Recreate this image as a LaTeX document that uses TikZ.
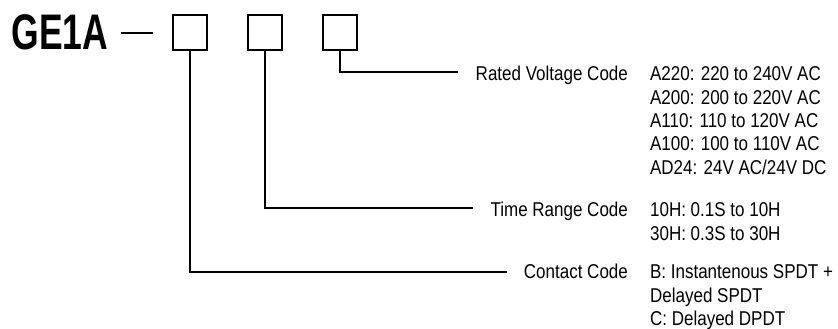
\documentclass[tikz,border=0pt]{standalone}
\usepackage{fontspec}
\newfontfamily\codefont{Liberation Sans}[FakeStretch=0.85]
\newfontfamily\titlefont{Liberation Sans}[FakeStretch=0.71]
\usetikzlibrary{positioning}

\begin{document}
\begin{tikzpicture}[x=1pt,y=-1pt,line width=2.2pt]

		\tikzset{code box/.style={draw, line width=2.4pt,
								minimum width=33.6pt, minimum height=34.6pt,
								inner sep=0pt},
				 code text/.style={inner sep=0pt,
								font=\codefont\fontsize{20}{23.4}\selectfont},
				 code label/.style={code text, anchor=base east},
				 code value/.style={code text, anchor=base west}}

		\useasboundingbox (0,0) rectangle (838,329);

		% model number and code boxes
		\node[anchor=base west, inner sep=0pt,
			  font=\titlefont\bfseries\fontsize{50}{50}\selectfont] (GE) at (10.5,50) {GE1A};
		\draw (121,33) -- (153,33);
		\node[code box] (B1) at (190,32.5) {};
		\node[code box, right=39pt of B1] (B2) {};
		\node[code box, right=39pt of B2] (B3) {};

		% code names
		\node[code label] (RV) at (629,80.5) {Rated Voltage Code};
		\node[code label] (TR) at (629,216.5) {Time Range Code};
		\node[code label] (CC) at (629,278.5) {Contact Code};

		% code values
		\node[code value] (RV1) at (649,80.5) {A220: 220 to 240V AC};
		\node[code value] (RV2) at (649,104) {A200: 200 to 220V AC};
		\node[code value] (RV3) at (649,127.4) {A110: 110 to 120V AC};
		\node[code value] (RV4) at (649,150.8) {A100: 100 to 110V AC};
		\node[code value] (RV5) at (649,174.2) {AD24: 24V AC/24V DC};
		\node[code value] (TR1) at (649,216.5) {10H: 0.1S to 10H};
		\node[code value] (TR2) at (649,240) {30H: 0.3S to 30H};
		\node[code value] (CC1) at (649,278.5) {B: Instantenous SPDT +};
		\node[code value] (CC2) at (649,302) {Delayed SPDT};
		\node[code value] (CC3) at (649,325.5) {C: Delayed DPDT};

		% leader lines
		\coordinate (RV end) at (458,72);
		\coordinate (TR end) at (473,208);
		\coordinate (CC end) at (507,272);
		\draw (B3.south) |- (RV end);
		\draw (B2.south) |- (TR end);
		\draw (B1.south) |- (CC end);
\end{tikzpicture}
\end{document}
